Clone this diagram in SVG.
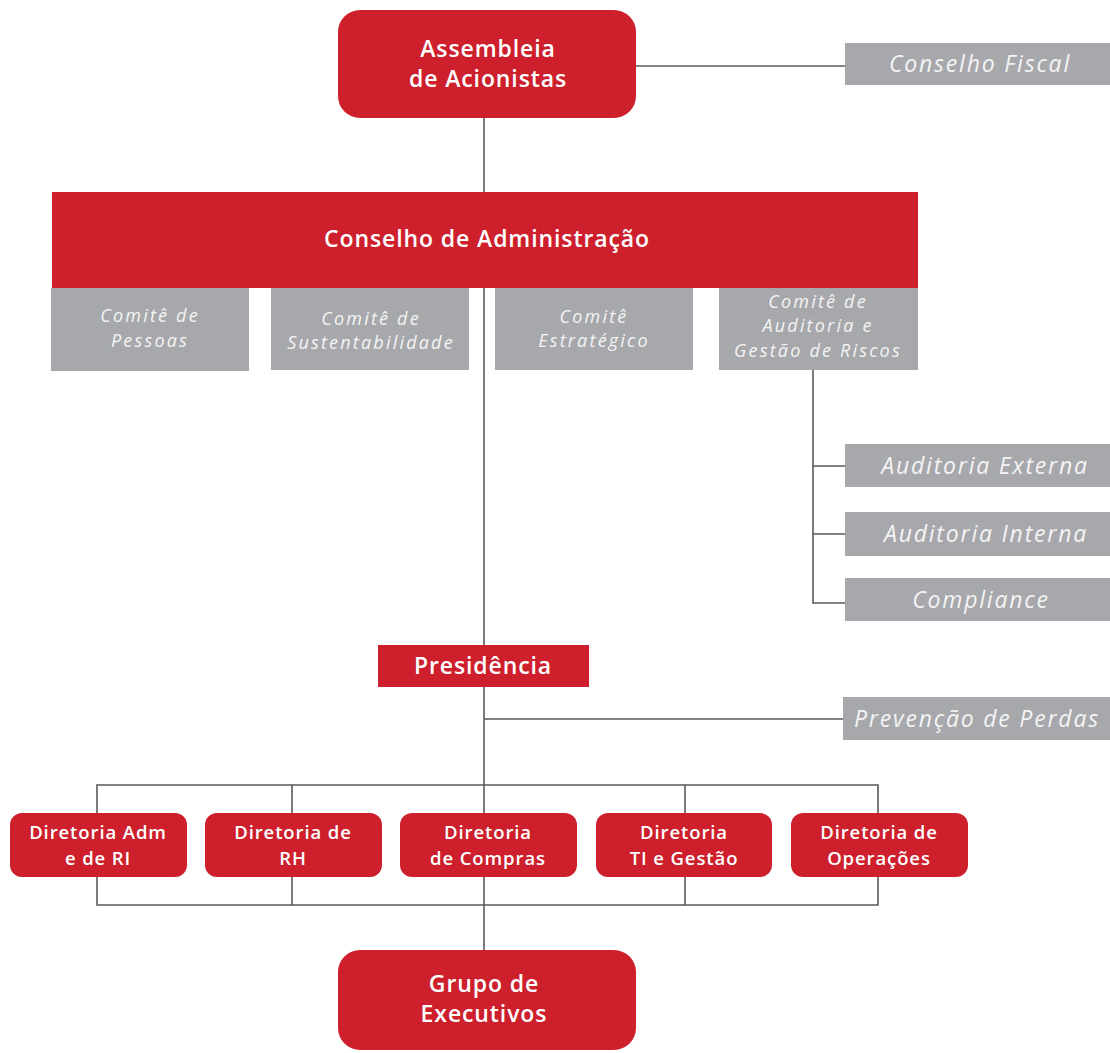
<svg xmlns="http://www.w3.org/2000/svg" width="1110" height="1053" viewBox="0 0 1110 1053">
<style>
.red{fill:#cd1f2c}
.gray{fill:#a7a8ab}
.line{stroke:#5a5a5a;stroke-width:1.6;fill:none}
.tw{fill:#ffffff;font-family:"Open Sans","Liberation Sans",sans-serif;font-weight:600;text-anchor:middle}
.tg{fill:#f4f4f4;font-family:"Open Sans","Liberation Sans",sans-serif;font-style:italic;text-anchor:middle}
.big{font-size:23px;letter-spacing:0.9px}
.mid{font-size:18.5px;letter-spacing:0.9px}
.sm{font-size:18px;letter-spacing:2.2px}
.gr{font-size:23px;letter-spacing:1.8px}
</style>
<rect width="1110" height="1053" fill="#ffffff"/>
<g id="connectors" class="line">
<path d="M484 118V192"/>
<path d="M636 66H845"/>
<path d="M484 288V645"/>
<path d="M813 370V603H845M813 466H845M813 534H845"/>
<path d="M484 687V950"/>
<path d="M484 719H843"/>
<path d="M97 785H878V905H97Z"/>
<path d="M292 785V905M685 785V905"/>
</g>
<g id="assembleia"><rect class="red" x="338" y="10" width="298" height="108" rx="22"/><text class="tw big" x="488" y="57">Assembleia</text><text class="tw big" x="488" y="87">de Acionistas</text></g>
<g id="conselho-fiscal"><rect class="gray" x="845" y="43" width="265" height="42"/><text class="tg gr" x="980" y="72">Conselho Fiscal</text></g>
<g id="conselho-admin"><rect class="red" x="52" y="192" width="866" height="96"/><text class="tw big" x="487" y="247">Conselho de Administração</text></g>
<g id="comite-pessoas"><rect class="gray" x="51" y="288" width="198" height="83"/><text class="tg sm" x="150" y="322">Comitê de</text><text class="tg sm" x="150" y="347">Pessoas</text></g>
<g id="comite-sust"><rect class="gray" x="271" y="288" width="198" height="82"/><text class="tg sm" x="371" y="325">Comitê de</text><text class="tg sm" x="371" y="349">Sustentabilidade</text></g>
<g id="comite-estr"><rect class="gray" x="495" y="288" width="198" height="82"/><text class="tg sm" x="594" y="323">Comitê</text><text class="tg sm" x="594" y="347">Estratégico</text></g>
<g id="comite-aud"><rect class="gray" x="719" y="288" width="199" height="82"/><text class="tg sm" x="818" y="308">Comitê de</text><text class="tg sm" x="818" y="332">Auditoria e</text><text class="tg sm" x="818" y="357">Gestão de Riscos</text></g>
<g id="aud-externa"><rect class="gray" x="845" y="444" width="265" height="43"/><text class="tg gr" x="985" y="474">Auditoria Externa</text></g>
<g id="aud-interna"><rect class="gray" x="845" y="512" width="265" height="44"/><text class="tg gr" x="986" y="542">Auditoria Interna</text></g>
<g id="compliance"><rect class="gray" x="845" y="578" width="265" height="43"/><text class="tg gr" x="981" y="608">Compliance</text></g>
<g id="presidencia"><rect class="red" x="378" y="645" width="211" height="42"/><text class="tw big" x="483" y="674">Presidência</text></g>
<g id="prevencao"><rect class="gray" x="843" y="697" width="267" height="43"/><text class="tg gr" x="977" y="727">Prevenção de Perdas</text></g>
<g id="dir-adm"><rect class="red" x="10" y="813" width="177" height="64" rx="12"/><text class="tw mid" x="98" y="839">Diretoria Adm</text><text class="tw mid" x="98" y="865">e de RI</text></g>
<g id="dir-rh"><rect class="red" x="205" y="813" width="177" height="64" rx="12"/><text class="tw mid" x="293" y="839">Diretoria de</text><text class="tw mid" x="293" y="865">RH</text></g>
<g id="dir-compras"><rect class="red" x="400" y="813" width="177" height="64" rx="12"/><text class="tw mid" x="488" y="839">Diretoria</text><text class="tw mid" x="488" y="865">de Compras</text></g>
<g id="dir-ti"><rect class="red" x="596" y="813" width="176" height="64" rx="12"/><text class="tw mid" x="684" y="839">Diretoria</text><text class="tw mid" x="684" y="865">TI e Gestão</text></g>
<g id="dir-oper"><rect class="red" x="791" y="813" width="177" height="64" rx="12"/><text class="tw mid" x="879" y="839">Diretoria de</text><text class="tw mid" x="879" y="865">Operações</text></g>
<g id="grupo-exec"><rect class="red" x="338" y="950" width="298" height="100" rx="22"/><text class="tw big" x="484" y="992">Grupo de</text><text class="tw big" x="484" y="1022">Executivos</text></g>
</svg>
